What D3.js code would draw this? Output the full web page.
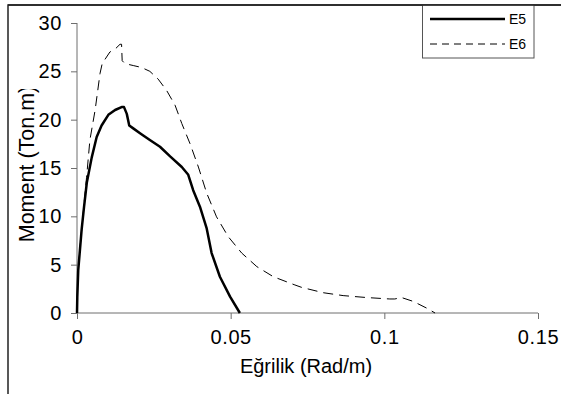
<!DOCTYPE html>
<meta charset="utf-8">
<style>
  body { margin: 0; background: #fff; }
  svg { display: block; font-family: Arial, "Liberation Sans", sans-serif; }
</style>
<svg width="561" height="394"></svg>
<script src="https://cdn.jsdelivr.net/npm/d3@7"></script>
<script>
// E5 curve (solid)
var e5x = [0, 0.0001, 0.0004, 0.0015, 0.0023, 0.0032, 0.0048, 0.0064, 0.0080, 0.0102, 0.0124, 0.0145, 0.0153, 0.0162, 0.0170, 0.0183, 0.0205, 0.0237, 0.0270, 0.0303, 0.0341, 0.0362, 0.0378, 0.0400, 0.0422, 0.0438, 0.0465, 0.0498, 0.0530];
var e5y = [0, 1.7, 4.4, 8.6, 11.0, 13.5, 16.1, 18.2, 19.4, 20.5, 21.0, 21.3, 21.3, 20.6, 19.4, 19.1, 18.6, 17.9, 17.2, 16.2, 15.1, 14.3, 12.7, 11.0, 8.75, 6.2, 3.75, 1.7, 0];
// E6 curve (dashed)
var e6x = [0, 0.0002, 0.001, 0.002, 0.0031, 0.0042, 0.0059, 0.0075, 0.0082, 0.0107, 0.0124, 0.0140, 0.0145, 0.0147, 0.0156, 0.0183, 0.0210, 0.0237, 0.0264, 0.0292, 0.0319, 0.0341, 0.0368, 0.0395, 0.0422, 0.0454, 0.0492, 0.0536, 0.0585, 0.0639, 0.0709, 0.0731, 0.0801, 0.0866, 0.0942, 0.1018, 0.1034, 0.1056, 0.1094, 0.1138, 0.1165];
var e6y = [0, 3.4, 6.8, 10.3, 14.0, 17.9, 21.0, 24.8, 25.8, 27.0, 27.3, 27.8, 27.8, 26.1, 25.8, 25.6, 25.4, 25.0, 24.2, 23.0, 21.5, 19.6, 17.5, 15.1, 12.4, 9.95, 7.9, 6.2, 4.8, 3.75, 2.9, 2.65, 2.1, 1.8, 1.6, 1.45, 1.45, 1.6, 1.2, 0.5, 0];

var xTicks = [0, 0.05, 0.1, 0.15];
var yTicks = [0, 5, 10, 15, 20, 25, 30];
var seriesNames = ["E5", "E6"];

var svg = d3.select("svg");

var x = d3.scaleLinear().domain([0, 0.15]).range([77, 538]);
var y = d3.scaleLinear().domain([0, 30]).range([313, 23]);

// outer chart frame (only top/left visible)
svg.append("path")
    .attr("d", "M8,400V5H570")
    .attr("fill", "none")
    .attr("stroke", "#222")
    .attr("stroke-width", 1.5);

// axes
var xAxis = svg.append("g")
    .attr("transform", "translate(0," + y(0) + ")")
    .call(d3.axisBottom(x).tickValues(xTicks).tickSize(6).tickPadding(11)
        .tickFormat(function(d) { return d === 0 ? "0" : String(d); }));
var yAxis = svg.append("g")
    .attr("transform", "translate(" + x(0) + ",0)")
    .call(d3.axisLeft(y).tickValues(yTicks).tickSize(6).tickPadding(9));

[xAxis, yAxis].forEach(function(g) {
  g.select(".domain").attr("stroke", "#6e6e6e");
  g.selectAll(".tick line").attr("stroke", "#6e6e6e");
  g.selectAll(".tick text")
      .attr("fill", "#000")
      .style("font-size", "20px")
      .style("font-family", "Arial, 'Liberation Sans', sans-serif")
      .style("letter-spacing", "0.6px");
});
xAxis.select(".domain").attr("d", "M" + x(0) + ",0H" + x(0.15));
yAxis.select(".domain").attr("d", "M0," + y(0) + "V" + y(30));

// axis titles
svg.append("text")
    .attr("x", 306).attr("y", 373)
    .attr("text-anchor", "middle")
    .style("font-size", "20px")
    .text("Eğrilik (Rad/m)");

// y title, cut off at the top like in the source chart
svg.append("clipPath").attr("id", "ttl")
  .append("rect").attr("x", 0).attr("y", 89).attr("width", 60).attr("height", 300);
svg.append("g")
    .attr("clip-path", "url(#ttl)")
  .append("text")
    .attr("transform", "translate(34,164) rotate(-90)")
    .attr("text-anchor", "middle")
    .style("font-size", "21.5px")
    .text("Moment (Ton.m)");

// lines
var line = d3.line()
    .x(function(d) { return x(d[0]); })
    .y(function(d) { return y(d[1]); });

var e6 = d3.zip(e6x, e6y);
var e5 = d3.zip(e5x, e5y);

svg.append("path")
    .datum(e6)
    .attr("d", line)
    .attr("fill", "none")
    .attr("stroke", "#000")
    .attr("stroke-width", 1)
    .attr("stroke-dasharray", "10,6");

svg.append("path")
    .datum(e5)
    .attr("d", line)
    .attr("fill", "none")
    .attr("stroke", "#000")
    .attr("stroke-width", 2.5)
    .attr("stroke-linejoin", "round");

// legend
var lg = svg.append("g");
lg.append("rect")
    .attr("x", 422.5).attr("y", 5).attr("width", 111.5).attr("height", 53)
    .attr("fill", "#fff")
    .attr("stroke", "#555");
svg.append("line").attr("x1", 8).attr("x2", 561).attr("y1", 5).attr("y2", 5)
    .attr("stroke", "#222").attr("stroke-width", 1.5);

seriesNames.forEach(function(name, i) {
  var ly = 19 + i * 25;
  lg.append("line")
      .attr("x1", 430).attr("x2", 505)
      .attr("y1", ly).attr("y2", ly)
      .attr("stroke", "#000")
      .attr("stroke-width", i === 0 ? 2.5 : 1)
      .attr("stroke-dasharray", i === 0 ? null : "7,5");
  lg.append("text")
      .attr("x", 509).attr("y", ly + 5)
      .style("font-size", "14px")
      .text(name);
});
</script>
